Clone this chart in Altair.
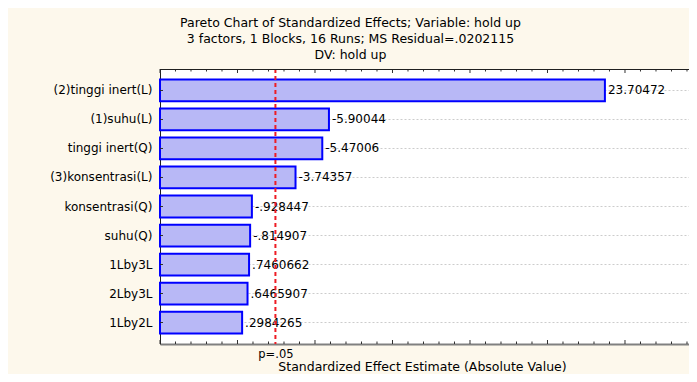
import altair as alt
import pandas as pd

# ---- data ----
factors = ["(2)tinggi inert(L)", "(1)suhu(L)", "tinggi inert(Q)", "(3)konsentrasi(L)",
           "konsentrasi(Q)", "suhu(Q)", "1Lby3L", "2Lby3L", "1Lby2L"]
effects = [23.70472, -5.90044, -5.47006, -3.74357, -0.928447, -0.814907, 0.7460662, 0.6465907, 0.2984265]
effect_labels = ["23.70472", "-5.90044", "-5.47006", "-3.74357", "-.928447", "-.814907",
                 ".7460662", ".6465907", ".2984265"]
p_crit = 2.4469          # p=.05 reference line
x_min, x_max = -5, 29.13
minor_ticks = [t for t in range(-5, 30) if t % 5 != 0]
major_ticks = list(range(-5, 30, 5))
label_pad = {"(2)tinggi inert(L)": 3, "tinggi inert(Q)": 5, "konsentrasi(Q)": 1,
             "1Lby3L": 1, "2Lby3L": 1, "1Lby2L": 1}

FONT = "DejaVu Sans"
PLOT_W, PLOT_H = 529, 275

df = pd.DataFrame({"factor": factors, "effect": effects, "label": effect_labels})
df["abs"] = df["effect"].abs()

minor_df = pd.DataFrame({"t": minor_ticks})
major_df = pd.DataFrame({"t": major_ticks})

xscale = alt.Scale(domain=[x_min, x_max], nice=False, zero=False)
yscale = alt.Scale(domain=factors, paddingInner=0.25, paddingOuter=0.366)

pad_expr = "datum.label"
for k, n in label_pad.items():
    pad_expr = f"(datum.label == '{k}' ? datum.label + '{chr(160) * n}' : " + pad_expr + ")"

y_axis = alt.Axis(title=None, ticks=False, domain=True, domainColor="#202020", domainWidth=1,
                  labelFont=FONT, labelFontSize=12,
                  labelColor="black", labelPadding=8, grid=True, gridColor="#cccccc",
                  gridDash=[2, 2], gridWidth=1, labelExpr=pad_expr)

x_axis = alt.Axis(values=[p_crit], labelExpr="'p=.05'", ticks=False, grid=False,
                  domain=True, domainColor="#808080", domainWidth=2,
                  labelFont=FONT, labelFontSize=11.5, labelColor="black", labelPadding=4,
                  title="Standardized Effect Estimate (Absolute Value)",
                  titleFont=FONT, titleFontSize=12.5, titleFontWeight="normal",
                  titleColor="black", titleX=262, titleY=26.5, titleBaseline="alphabetic")

bars = alt.Chart(df).mark_bar(fill="#b8b8f6", stroke="#0000ff", strokeWidth=2).encode(
    x=alt.X("abs:Q", scale=xscale, axis=x_axis),
    x2=alt.datum(x_min),
    y=alt.Y("factor:N", scale=yscale, sort=factors, axis=y_axis),
)

texts = alt.Chart(df).mark_text(align="left", baseline="middle", dx=3, font=FONT,
                                fontSize=12, color="black").encode(
    x=alt.X("abs:Q", scale=xscale),
    y=alt.Y("factor:N", scale=yscale, sort=factors),
    text="label:N",
)

pline = alt.Chart(pd.DataFrame({"p": [p_crit]})).mark_rule(
    color="#ee1c24", strokeWidth=2, strokeDash=[4, 3]).encode(
    x=alt.X("p:Q", scale=xscale),
)


def tick_layer(data, y0, y1):
    return alt.Chart(data).mark_rule(color="#303030", strokeWidth=1).encode(
        x=alt.X("t:Q", scale=xscale),
        y=alt.value(y0),
        y2=alt.value(y1),
    )


top_minor = tick_layer(minor_df, 0, 2.5)
top_major = tick_layer(major_df, 0, 4)
bot_minor = tick_layer(minor_df, PLOT_H, PLOT_H - 2.5)
bot_major = tick_layer(major_df, PLOT_H, PLOT_H - 4)

top_border = alt.Chart(pd.DataFrame({"a": [0]})).mark_rule(
    color="#202020", strokeWidth=1).encode(
    x=alt.value(0), x2=alt.value(PLOT_W), y=alt.value(0.5))

left_ticks = alt.Chart(df).mark_rule(color="#303030", strokeWidth=1).encode(
    y=alt.Y("factor:N", scale=yscale, sort=factors),
    x=alt.value(0),
    x2=alt.value(3),
)

chart = alt.layer(bars, texts, pline, top_minor, top_major, bot_minor, bot_major,
                  top_border, left_ticks).properties(
    width=PLOT_W, height=PLOT_H,
    title=alt.TitleParams(
        text=["Pareto Chart of Standardized Effects; Variable: hold up",
              "3 factors, 1 Blocks, 16 Runs; MS Residual=.0202115",
              "DV: hold up"],
        font=FONT, fontSize=12.5, fontWeight="normal", color="black",
        anchor="middle", frame="group", dx=-74, lineHeight=16, offset=7),
    autosize=alt.AutoSizeParams(type="none"),
    padding={"left": 152, "top": 61, "right": 0, "bottom": 30},
    background="#fdf8ec",
).configure_view(fill="white", stroke=None)

chart.save("out.html", embed_options={"renderer": "svg", "actions": False})
